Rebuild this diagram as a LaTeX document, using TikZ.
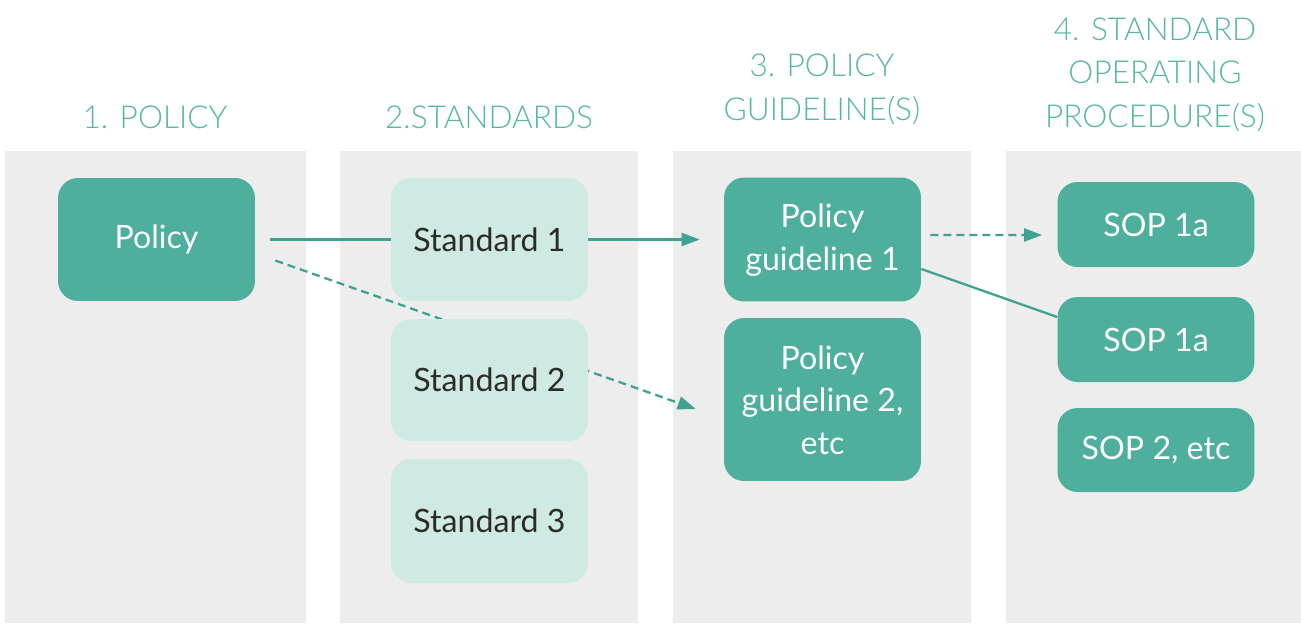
\documentclass[tikz,border=0pt]{standalone}
\usepackage{fontspec}
\setmainfont{Lato}
\newfontfamily\thinfont{Lato}[UprightFont=* Light]
\usetikzlibrary{arrows.meta}
\definecolor{panelgray}{HTML}{EDEDED}
\definecolor{tealdark}{HTML}{4DAF9C}
\definecolor{teallight}{HTML}{CFE9E3}
\definecolor{tealline}{HTML}{3DA38E}
\definecolor{tealhead}{HTML}{56B6A3}
\definecolor{inktext}{HTML}{2B2B2B}
\pgfdeclarelayer{panels}
\pgfdeclarelayer{lines}
\pgfsetlayers{panels,lines,main}
\tikzset{
  head/.style={text=tealhead,font=\thinfont\fontsize{18}{24.5}\selectfont,align=center,inner sep=0pt},
  darkbox/.style={fill=tealdark,text=white,rounded corners=0.4cm,minimum width=3.94cm,
    align=center,inner sep=0pt,font=\fontsize{18.3}{24}\selectfont},
  lightbox/.style={darkbox,fill=teallight,text=inktext},
  conn/.style={tealline,line width=1.3pt},
  dashconn/.style={conn,dash pattern=on 0.16cm off 0.1cm},
  arrowtip/.style={-{Triangle[length=0.36cm,width=0.26cm]}}
}
\begin{document}
\begin{tikzpicture}[x=0.02cm,y=-0.02cm]
  \useasboundingbox (0,0) rectangle (1301,623);
  % grey columns
  \begin{pgfonlayer}{panels}
    \fill[panelgray] (5,151) rectangle (306,623);
    \fill[panelgray] (340,151) rectangle (638,623);
    \fill[panelgray] (673,151) rectangle (971,623);
    \fill[panelgray] (1006,151) rectangle (1301,623);
  \end{pgfonlayer}
  % column titles
  \node[head,anchor=base] (policyhead) at (155,128) {1. POLICY};
  \node[head,anchor=base] (stdhead) at (489,128) {2.STANDARDS};
  \node[head,anchor=base] (guidehead) at (822,120) {3. POLICY\\GUIDELINE(S)};
  \node[head,anchor=base] (sophead) at (1155,127) {4. STANDARD\\OPERATING\\PROCEDURE(S)};
  % boxes
  \node[darkbox,minimum height=2.46cm] (policy) at (156.5,239.5) {Policy};
  \node[lightbox,minimum height=2.46cm] (std1) at (489.5,239.5) {Standard 1};
  \node[lightbox,minimum height=2.44cm] (std2) at (489.5,380) {Standard 2};
  \node[lightbox,minimum height=2.48cm] (std3) at (489.5,521) {Standard 3};
  \node[darkbox,minimum height=2.48cm] (guide1) at (822.5,239.5) {\rule{0pt}{0.5cm}Policy\\guideline 1};
  \node[darkbox,minimum height=3.26cm] (guide2) at (822.5,399.5) {\rule{0pt}{0.5cm}Policy\\guideline 2,\\etc};
  \node[darkbox,minimum height=1.7cm] (sop1) at (1156,224.5) {SOP 1a};
  \node[darkbox,minimum height=1.7cm] (sop2) at (1156,339.5) {SOP 1a};
  \node[darkbox,minimum height=1.68cm] (sop3) at (1156,450) {SOP 2, etc};
  % links, kept under the boxes
  \begin{pgfonlayer}{lines}
    \draw[conn,arrowtip,shorten <=0.3cm,shorten >=0.48cm] (policy) -- (guide1);
    \draw[dashconn,arrowtip] ([xshift=0.4cm,yshift=-0.42cm]policy.east)
      -- ([xshift=-0.56cm,yshift=-0.19cm]guide2.west);
    \draw[dashconn,arrowtip] ([xshift=0.18cm,yshift=0.09cm]guide1.east)
      -- ([xshift=-0.3cm,yshift=-0.21cm]sop1.west);
    \draw[conn] ([yshift=-0.59cm]guide1.east) -- ([yshift=0.45cm]sop2.west);
  \end{pgfonlayer}
\end{tikzpicture}
\end{document}
